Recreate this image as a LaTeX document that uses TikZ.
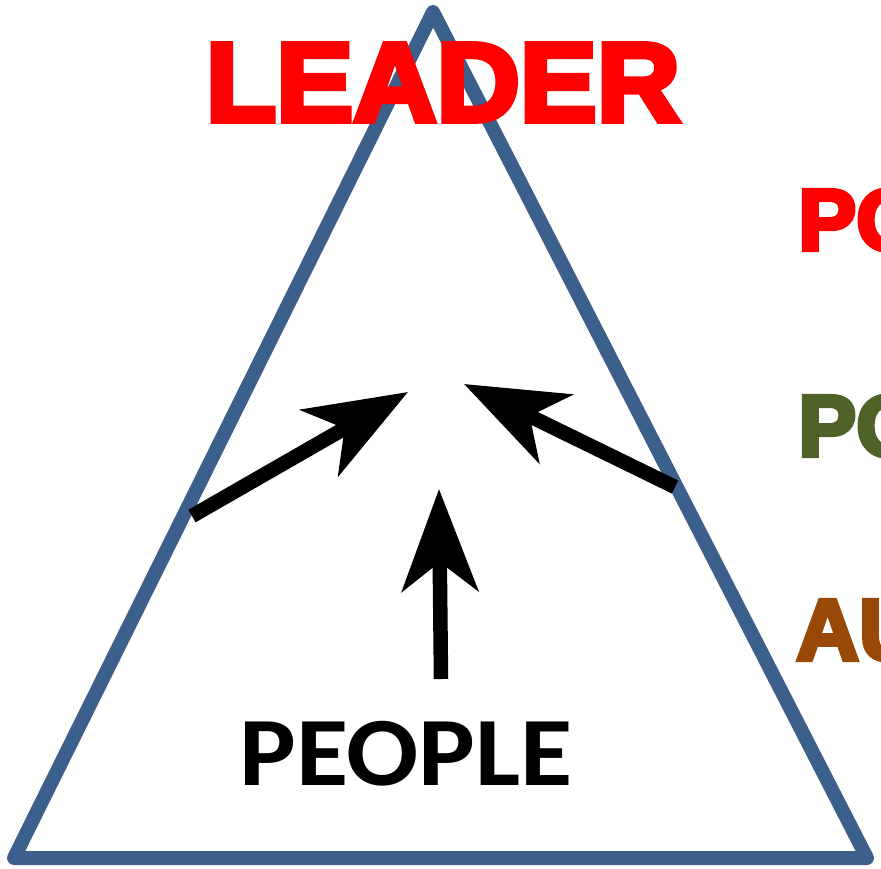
\documentclass[tikz,border=0pt]{standalone}
\usepackage{fontspec}
\setmainfont{Liberation Sans}
\newfontfamily\heavyfont[FakeBold=5]{Liberation Sans Bold}
\newfontfamily\peoplefont{Carlito}
\usetikzlibrary{arrows.meta}

\definecolor{triblue}{HTML}{3C5F8B}
\definecolor{leadred}{HTML}{FF0000}
\definecolor{posgreen}{HTML}{4F6228}
\definecolor{authbrown}{HTML}{984807}

\tikzset{
    tri/.style={draw=triblue, line width=14pt, line join=round},
    push/.style={line width=14.5pt, -{Stealth[length=102pt, width=76pt, inset=29pt]}},
    heavytext/.style={inner sep=0pt, font=\heavyfont\fontsize{112}{112}\selectfont},
    sidetext/.style={inner sep=0pt, anchor=base west, font=\heavyfont\fontsize{87}{87}\selectfont},
}

\begin{document}
\begin{tikzpicture}[x=1pt, y=-1pt]
    \useasboundingbox (0,0) rectangle (881,868);
    \clip (0,0) rectangle (881,868);

    % triangle corners
    \coordinate (apex) at (433,12);
    \coordinate (bl) at (14,858);
    \coordinate (br) at (867,858);

    % draw triangle
    \draw[tri] (apex) -- (bl) -- (br) -- cycle;

    % arrow ends
    \coordinate (lefttail) at (192,516);
    \coordinate (lefttip) at (408,392);
    \coordinate (righttail) at (675,487);
    \coordinate (righttip) at (464,384);
    \coordinate (uptail) at (441,679);
    \coordinate (uptip) at (439,489);

    % draw arrows
    \draw[push] (lefttail) -- (lefttip);
    \draw[push] (righttail) -- (righttip);
    \draw[push] (uptail) -- (uptip);

    % LABELS
    \node[heavytext, text=leadred, anchor=base, xscale=1.03] (leader) at (443,121) {LEADER};
    \node[inner sep=0pt, anchor=base, xscale=1.09, font=\peoplefont\bfseries\fontsize{98}{98}\selectfont] (people) at (406,785) {PEOPLE};

    % side words, cut by the edge
    \node[sidetext, text=leadred] (powerword) at (798,250) {PO};
    \node[sidetext, text=posgreen] (posword) at (798,456) {PO};
    \node[sidetext, text=authbrown] (authword) at (796,660) {AU};
\end{tikzpicture}
\end{document}
